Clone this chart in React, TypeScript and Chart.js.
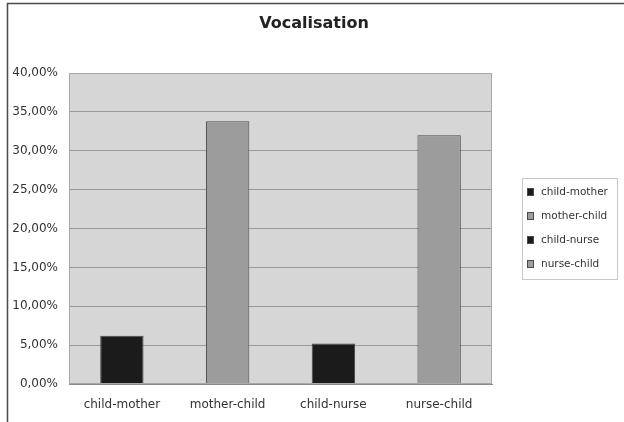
import React, { useEffect, useRef } from "react";
import { Chart, registerables } from "chart.js";

Chart.register(...registerables);

const TITLE = "Vocalisation";
const categories = ["child-mother", "mother-child", "child-nurse", "nurse-child"];
const values = [6.2, 33.8, 5.2, 32.0];
const barColors = ["#1b1b1b", "#9c9c9c", "#1b1b1b", "#9c9c9c"];
const yMin = 0;
const yMax = 40;
const yStep = 5;

const FONT = "'DejaVu Sans', 'Liberation Sans', Arial, sans-serif";

const decorPlugin = {
  id: "decor",
  beforeDraw(chart: any) {
    const { ctx, chartArea } = chart;
    ctx.save();
    ctx.fillStyle = "#ffffff";
    ctx.fillRect(0, 0, chart.width, chart.height);
    ctx.fillStyle = "#d6d6d6";
    ctx.fillRect(chartArea.left, chartArea.top, chartArea.right - chartArea.left, chartArea.bottom - chartArea.top);
    ctx.restore();
  },
  afterDraw(chart: any) {
    const { ctx, chartArea } = chart;
    ctx.save();
    // outer frame (left and top)
    ctx.strokeStyle = "#4a4a4a";
    ctx.lineWidth = 1.5;
    ctx.beginPath();
    ctx.moveTo(7.5, chart.height);
    ctx.lineTo(7.5, 3.5);
    ctx.lineTo(chart.width, 3.5);
    ctx.stroke();

    // plot frame
    ctx.strokeStyle = "#a8a8a8";
    ctx.lineWidth = 1;
    ctx.strokeRect(chartArea.left + 0.5, chartArea.top + 0.5, chartArea.right - chartArea.left - 1, chartArea.bottom - chartArea.top - 1);

    // title
    ctx.fillStyle = "#222222";
    ctx.font = `bold 16px ${FONT}`;
    ctx.textAlign = "center";
    ctx.textBaseline = "middle";
    ctx.fillText(TITLE, 314, 24);

    // legend
    const bx = 522, by = 178, bw = 95, bh = 101;
    ctx.strokeStyle = "#c8c8c8";
    ctx.lineWidth = 1;
    ctx.strokeRect(bx + 0.5, by + 0.5, bw, bh);
    ctx.font = `10.5px ${FONT}`;
    ctx.textAlign = "left";
    ctx.textBaseline = "middle";
    categories.forEach((c, i) => {
      const cy = 192 + i * 24;
      ctx.fillStyle = barColors[i];
      ctx.fillRect(527, cy - 4, 7, 8);
      ctx.strokeStyle = "#4a4a4a";
      ctx.strokeRect(527.5, cy - 3.5, 6, 7);
      ctx.fillStyle = "#333333";
      ctx.fillText(c, 541, cy);
    });
    ctx.restore();
  },
};

export default function App() {
  const canvasRef = useRef<HTMLCanvasElement | null>(null);

  useEffect(() => {
    if (!canvasRef.current) return;
    const chart = new Chart(canvasRef.current, {
      type: "bar",
      data: {
        labels: categories,
        datasets: [
          {
            data: values,
            backgroundColor: barColors,
            borderColor: "#4a4a4a",
            borderWidth: 1,
            barPercentage: 0.41,
            categoryPercentage: 1,
          },
        ],
      },
      options: {
        responsive: false,
        animation: false,
        devicePixelRatio: 1,
        layout: { padding: { left: 8, top: 73, right: 132, bottom: 0 } },
        plugins: {
          legend: { display: false },
          title: { display: false },
          tooltip: { enabled: false },
        },
        scales: {
          x: {
            grid: { display: false, drawTicks: false },
            border: { display: true, color: "#8a8a8a", width: 1 },
            ticks: {
              color: "#333333",
              font: { family: FONT, size: 12 },
              padding: 14,
              maxRotation: 0,
              autoSkip: false,
            },
            afterFit: (scale: any) => {
              scale.height = 38;
            },
          },
          y: {
            min: yMin,
            max: yMax,
            grid: { color: "#9a9a9a", lineWidth: 1, drawTicks: false },
            border: { display: false },
            ticks: {
              stepSize: yStep,
              color: "#333333",
              font: { family: FONT, size: 12 },
              padding: 11,
              callback: (v: any) => Number(v).toFixed(2).replace(".", ",") + "%",
            },
            afterFit: (scale: any) => {
              scale.width = 61;
            },
          },
        },
      },
      plugins: [decorPlugin],
    });
    return () => chart.destroy();
  }, []);

  return (
    <div style={{ position: "absolute", left: 0, top: 0, width: 624, height: 422 }}>
      <canvas ref={canvasRef} width={624} height={422} style={{ display: "block" }} />
    </div>
  );
}
